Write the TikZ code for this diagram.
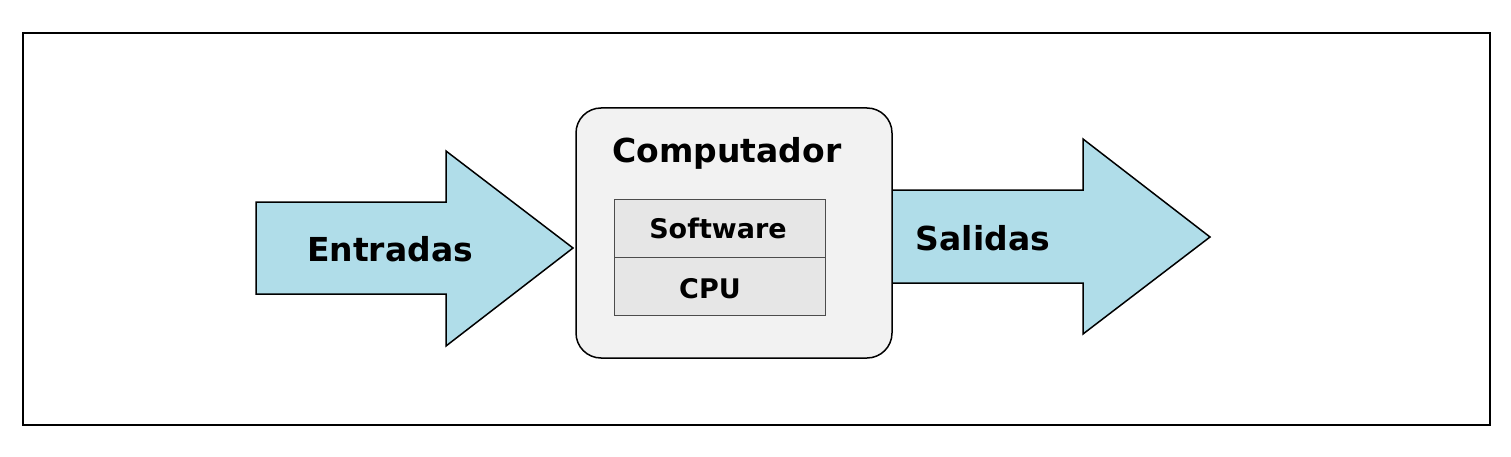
\documentclass[tikz,border=0pt]{standalone}
\usepackage{fontspec}
\setmainfont{DejaVu Sans}
\usetikzlibrary{positioning,calc}
\definecolor{flecha}{HTML}{B0DDE9}
\definecolor{caja}{HTML}{F2F2F2}
\definecolor{celda}{HTML}{E6E6E6}
\tikzset{
    grande/.style={font=\fontsize{33}{40}\selectfont\bfseries},
    chica/.style={font=\fontsize{27}{32}\selectfont\bfseries},
    celdabox/.style={draw=black!70, line width=0.8pt, fill=celda, minimum width=211pt, minimum height=58pt, inner sep=0pt}
}
\begin{document}
\begin{tikzpicture}[x=1pt,y=-1pt, line width=1.5pt]
    \useasboundingbox (0,0) rectangle (1511,457);
    % marco
    \draw (23,33) rectangle (1490,425);

    % Entradas
    \draw[fill=flecha] (256,202) -- (446,202) -- (446,151) -- (573,248) -- (446,346) -- (446,294) -- (256,294) -- cycle;
    \node[grande] (entradas) at (390,249) {Entradas};

    % Salidas
    \draw[fill=flecha] (880,190) -- (1083,190) -- (1083,139) -- (1210,237) -- (1083,334) -- (1083,283) -- (880,283) -- cycle;
    \node[grande] (salidas) at (983,238) {Salidas};

    % Computador
    \node[draw, fill=caja, rounded corners=25pt, minimum width=316pt, minimum height=250pt] (comp) at (734,233) {};
    \node[grande] (titulo) at (727,153) {Computador};
    \node[celdabox] (sw) at (719.5,228) {};
    \node[celdabox, below=0pt of sw] (cpu) {};
    \node[chica] (swtxt) at (718,228) {Software};
    \node[chica] (cputxt) at (710,289) {CPU};
\end{tikzpicture}
\end{document}
